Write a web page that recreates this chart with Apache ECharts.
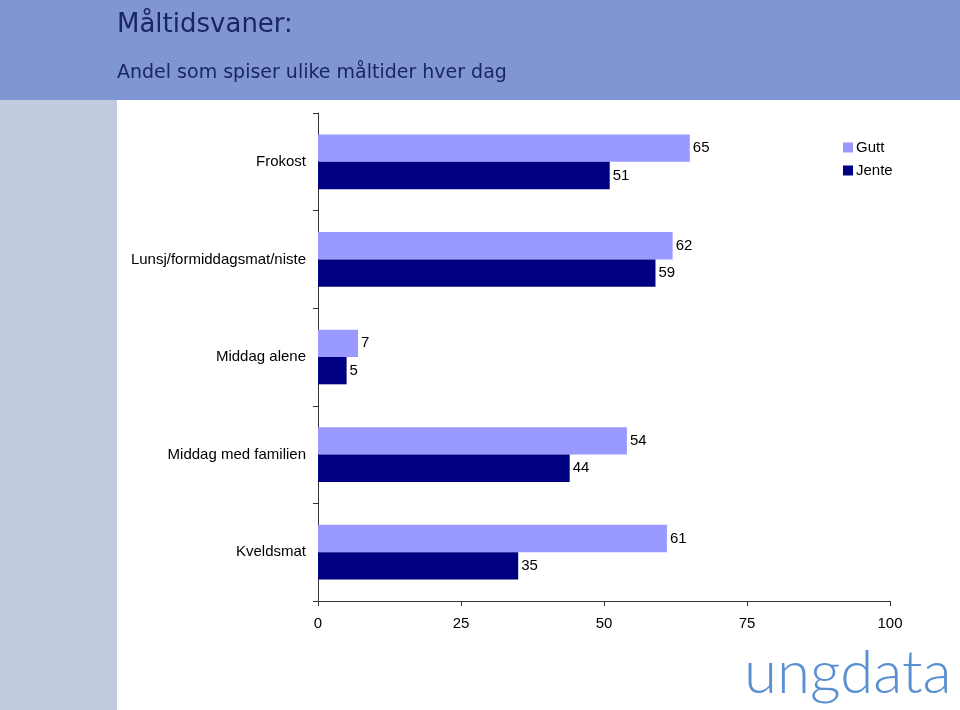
<!DOCTYPE html>
<html><head><meta charset="utf-8">
<script src="https://cdn.jsdelivr.net/npm/echarts@6/dist/echarts.min.js"></script>
<style>html,body{margin:0;padding:0;background:#fff}#c{width:960px;height:710px}</style>
</head><body><div id="c"></div>
<script>
const categories = ["Frokost","Lunsj/formiddagsmat/niste","Middag alene","Middag med familien","Kveldsmat"];
const gutt = [65,62,7,54,61];
const jente = [51,59,5,44,35];
const xTicks = [0,25,50,75,100];

const chart = echarts.init(document.getElementById('c'));
const lbl = {show:true,position:'right',distance:3,color:'#000',fontFamily:'Liberation Sans, Arial',fontSize:15};
chart.setOption({
  animation:false,
  backgroundColor:'#fff',
  graphic:[
    {type:'rect',z:-10,shape:{x:0,y:0,width:960,height:100},style:{fill:'#8096D2'}},
    {type:'rect',z:-10,shape:{x:0,y:100,width:117,height:610},style:{fill:'#C0CBE0'}},
    {type:'text',left:117,top:12,style:{text:'Måltidsvaner:',fontFamily:'DejaVu Sans',fontSize:26,fill:'#1A2467'}},
    {type:'text',left:117,top:64,style:{text:'Andel som spiser ulike måltider hver dag',fontFamily:'DejaVu Sans',fontSize:19,fill:'#1A2467'}},
    {type:'text',left:744,top:644,style:{text:'ungdata',fontFamily:'Lato',fontWeight:300,fontSize:60,fill:'#5A8FD2'}}
  ],
  legend:{
    orient:'vertical',left:838,top:135,itemWidth:10,itemHeight:10,itemGap:8,icon:'rect',
    textStyle:{fontFamily:'Liberation Sans, Arial',fontSize:15,color:'#000',padding:[0,0,0,-2]},
    data:['Gutt','Jente']
  },
  grid:{left:318,right:70,top:113,bottom:109,containLabel:false},
  xAxis:{type:'value',min:0,max:100,interval:25,
    axisLine:{show:true,lineStyle:{color:'#333',width:1}},
    axisTick:{show:true,length:5,lineStyle:{color:'#333'}},
    splitLine:{show:false},
    axisLabel:{fontFamily:'Liberation Sans, Arial',fontSize:15,color:'#000',margin:15,
      formatter:v=>xTicks.includes(v)?String(v):''}
  },
  yAxis:{type:'category',data:categories,inverse:true,
    axisLine:{show:true,lineStyle:{color:'#333',width:1}},
    axisTick:{show:true,length:5,lineStyle:{color:'#333'}},
    axisLabel:{fontFamily:'Liberation Sans, Arial',fontSize:15,color:'#000',margin:12}
  },
  series:[
    {name:'Gutt',type:'bar',data:gutt,barGap:'0%',barCategoryGap:'44%',
      itemStyle:{color:'#9999FF'},label:lbl},
    {name:'Jente',type:'bar',data:jente,barGap:'0%',barCategoryGap:'44%',
      itemStyle:{color:'#000080'},label:lbl}
  ]
});
</script></body></html>
